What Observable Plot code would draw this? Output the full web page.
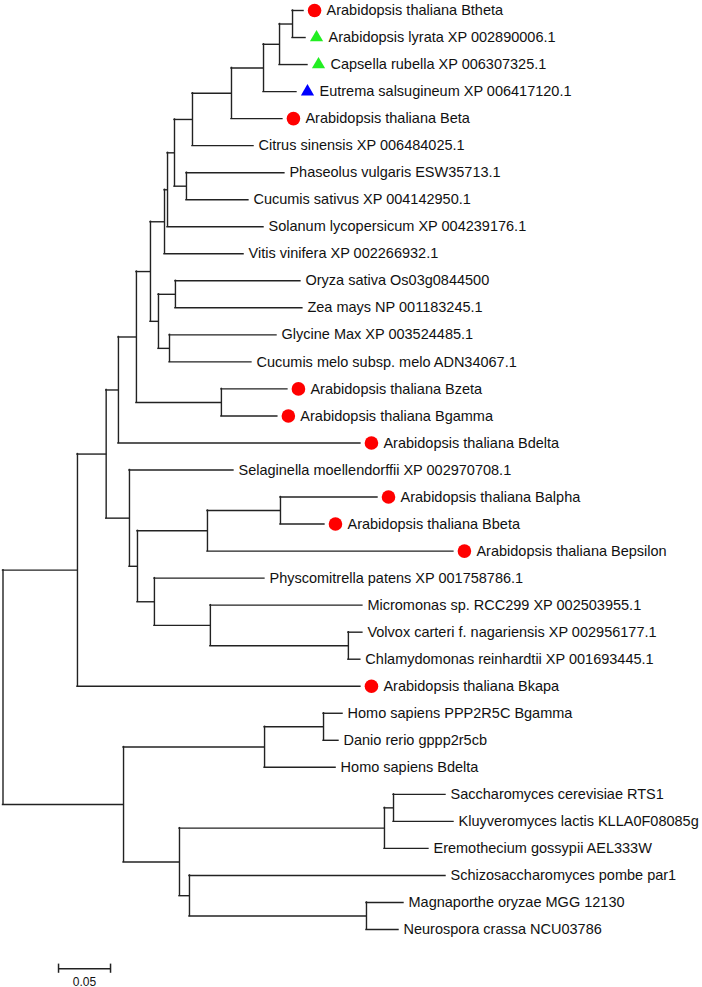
<!DOCTYPE html>
<html><head><meta charset="utf-8">
<script src="https://cdn.jsdelivr.net/npm/d3@7"></script>
<script src="https://cdn.jsdelivr.net/npm/@observablehq/plot@0.6"></script>
<style>body{margin:0;background:#fff}</style>
</head><body><div id="chart"></div>
<script>
// Tree edges (parent -> child, branch length in substitutions/site); children listed in drawing order
const edgeParent = [
  "root","root",
  "A","A",
  "B","B",
  "C","C",
  "E","E",
  "G","G",
  "H","H",
  "H2","H2",
  "H3","H3",
  "J","J",
  "K1","K1",
  "K2","K2",
  "K3","K3",
  "K4","K4",
  "PC","PC",
  "I","I",
  "OZ","OZ",
  "GC","GC",
  "BZ","BZ",
  "D","D",
  "K","K",
  "L","L",
  "AB","AB",
  "M","M",
  "N","N",
  "VC","VC",
  "F","F",
  "O","O",
  "HD","HD",
  "P","P",
  "Q","Q",
  "SK","SK",
  "R","R",
  "MN","MN"
];
const edgeChild = [
  "A","F",
  "B","Arabidopsis thaliana Bkapa",
  "C","D",
  "E","Arabidopsis thaliana Bdelta",
  "G","BZ",
  "H","I",
  "H2","Vitis vinifera XP 002266932.1",
  "H3","Solanum lycopersicum XP 004239176.1",
  "J","PC",
  "K1","Citrus sinensis XP 006484025.1",
  "K2","Arabidopsis thaliana Beta",
  "K3","Eutrema salsugineum XP 006417120.1",
  "K4","Capsella rubella XP 006307325.1",
  "Arabidopsis thaliana Btheta","Arabidopsis lyrata XP 002890006.1",
  "Phaseolus vulgaris ESW35713.1","Cucumis sativus XP 004142950.1",
  "OZ","GC",
  "Oryza sativa Os03g0844500","Zea mays NP 001183245.1",
  "Glycine Max XP 003524485.1","Cucumis melo subsp. melo ADN34067.1",
  "Arabidopsis thaliana Bzeta","Arabidopsis thaliana Bgamma",
  "Selaginella moellendorffii XP 002970708.1","K",
  "L","M",
  "AB","Arabidopsis thaliana Bepsilon",
  "Arabidopsis thaliana Balpha","Arabidopsis thaliana Bbeta",
  "Physcomitrella patens XP 001758786.1","N",
  "Micromonas sp. RCC299 XP 002503955.1","VC",
  "Volvox carteri f. nagariensis XP 002956177.1","Chlamydomonas reinhardtii XP 001693445.1",
  "O","P",
  "HD","Homo sapiens Bdelta",
  "Homo sapiens PPP2R5C Bgamma","Danio rerio gppp2r5cb",
  "Q","R",
  "SK","Eremothecium gossypii AEL333W",
  "Saccharomyces cerevisiae RTS1","Kluyveromyces lactis KLLA0F08085g",
  "Schizosaccharomyces pombe par1","MN",
  "Magnaporthe oryzae MGG 12130","Neurospora crassa NCU03786"
];
const edgeLength = [
  0.0716,0.1159,
  0.0276,0.2721,
  0.0118,0.0224,
  0.0173,0.2327,
  0.0135,0.0817,
  0.0135,0.0077,
  0.0029,0.0760,
  0.0067,0.0923,
  0.0173,0.0115,
  0.0375,0.0587,
  0.0308,0.0490,
  0.0154,0.0317,
  0.0125,0.0269,
  0.0106,0.0125,
  0.0942,0.0596,
  0.0163,0.0106,
  0.1202,0.1221,
  0.1029,0.0788,
  0.0635,0.0538,
  0.1000,0.0077,
  0.0673,0.0163,
  0.0702,0.2365,
  0.0933,0.0423,
  0.1058,0.0538,
  0.1462,0.1327,
  0.0135,0.0115,
  0.1356,0.0538,
  0.0567,0.0683,
  0.0183,0.0144,
  0.1971,0.0096,
  0.0087,0.0423,
  0.0500,0.0577,
  0.2462,0.1702,
  0.0356,0.0308
];
// Marked taxa
const markedTaxa = [
  "Arabidopsis thaliana Btheta","Arabidopsis lyrata XP 002890006.1","Capsella rubella XP 006307325.1",
  "Eutrema salsugineum XP 006417120.1","Arabidopsis thaliana Beta","Arabidopsis thaliana Bzeta",
  "Arabidopsis thaliana Bgamma","Arabidopsis thaliana Bdelta","Arabidopsis thaliana Balpha",
  "Arabidopsis thaliana Bbeta","Arabidopsis thaliana Bepsilon","Arabidopsis thaliana Bkapa"
];
const markerShape = ["circle","triangle","triangle","triangle","circle","circle","circle","circle","circle","circle","circle","circle"];
const markerColor = ["#ff0000","#22ee22","#22ee22","#0000ff","#ff0000","#ff0000","#ff0000","#ff0000","#ff0000","#ff0000","#ff0000","#ff0000"];
const scaleBarLength = 0.05;
const scaleBarLabel = "0.05";

// ---- layout ----
const kids = new Map();
edgeParent.forEach((p, i) => {
  if (!kids.has(p)) kids.set(p, []);
  kids.get(p).push({id: edgeChild[i], len: edgeLength[i]});
});
const depth = new Map(), ypos = new Map();
const leaves = [];
let leafIdx = 0;
function walk(id, d) {
  depth.set(id, d);
  const c = kids.get(id);
  if (!c) { ypos.set(id, leafIdx++); leaves.push(id); return; }
  c.forEach(k => walk(k.id, d + k.len));
  ypos.set(id, (ypos.get(c[0].id) + ypos.get(c[c.length - 1].id)) / 2);
}
walk("root", 0);

const hEdges = edgeChild.map((c, i) => ({x1: depth.get(edgeParent[i]), x2: depth.get(c), y: ypos.get(c)}));
const vEdges = [...kids.entries()].map(([p, c]) => ({x: depth.get(p), y1: ypos.get(c[0].id), y2: ypos.get(c[c.length - 1].id)}));
const markedSet = new Set(markedTaxa);
const leafData = leaves.map(l => ({name: l, x: depth.get(l), y: ypos.get(l)}));
const markers = markedTaxa.map((t, i) => ({x: depth.get(t), y: ypos.get(t), shape: markerShape[i], color: markerColor[i]}));

const barStart = 0.0534, barY = 35.45;
const font = "'Liberation Sans', Arial, Helvetica, sans-serif";
const lineColor = "#222";

const plot = Plot.plot({
  width: 702,
  height: 987,
  x: {domain: [0, 0.5], range: [2.5, 522.5], axis: null},
  y: {domain: [0, 34], range: [10, 929], axis: null},
  color: {type: "identity"},
  style: {fontFamily: font, background: "#fff", overflow: "visible"},
  marks: [
    Plot.ruleY(hEdges, {x1: "x1", x2: "x2", y: "y", stroke: lineColor, strokeWidth: 1.4, strokeLinecap: "square"}),
    Plot.ruleX(vEdges, {x: "x", y1: "y1", y2: "y2", stroke: lineColor, strokeWidth: 1.4, strokeLinecap: "square"}),
    Plot.dot(markers.filter(m => m.shape === "circle"), {x: "x", y: "y", dx: 11, r: 6.8, symbol: "circle", fill: "color", stroke: "none"}),
    Plot.dot(markers.filter(m => m.shape === "triangle"), {x: "x", y: "y", dx: 11, r: 4.9, symbol: "triangle", fill: "color", stroke: "none"}),
    Plot.text(leafData.filter(d => !markedSet.has(d.name)), {x: "x", y: "y", text: "name", dx: 5, textAnchor: "start", lineAnchor: "middle", fontSize: 14.5, fill: "#111"}),
    Plot.text(leafData.filter(d => markedSet.has(d.name)), {x: "x", y: "y", text: "name", dx: 23, textAnchor: "start", lineAnchor: "middle", fontSize: 14.5, fill: "#111"}),
    // scale bar
    Plot.ruleY([barY], {x1: barStart, x2: barStart + scaleBarLength, stroke: lineColor, strokeWidth: 1.5}),
    Plot.ruleX([barStart, barStart + scaleBarLength], {x: d => d, y1: barY - 0.17, y2: barY + 0.17, stroke: lineColor, strokeWidth: 1.5}),
    Plot.text([scaleBarLabel], {x: barStart + scaleBarLength / 2, y: barY + 0.48, text: d => d, textAnchor: "middle", lineAnchor: "middle", fontSize: 12, fill: "#111"})
  ]
});
document.getElementById("chart").appendChild(plot);
</script>
</body></html>
